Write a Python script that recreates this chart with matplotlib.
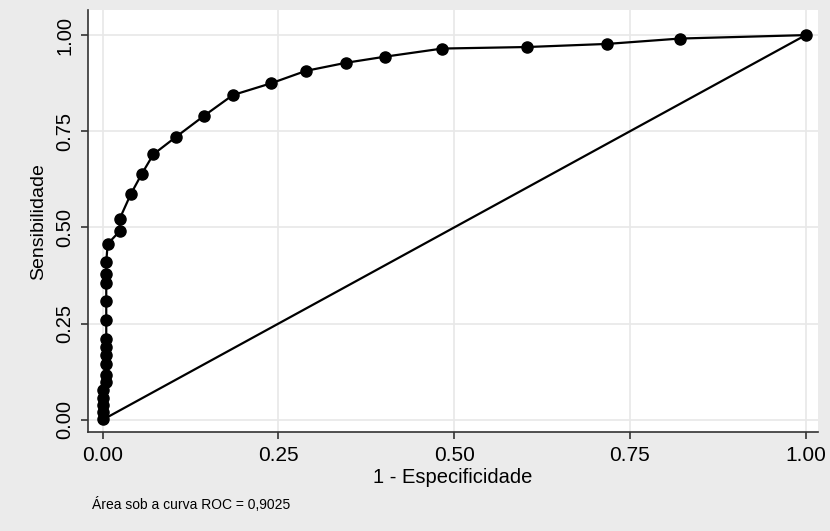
import matplotlib
matplotlib.use("Agg")
import matplotlib.pyplot as plt

# ROC points (1 - especificidade, sensibilidade)
fpr = [0.0, 0.0, 0.0, 0.0, 0.0, 0.005, 0.005, 0.005, 0.005, 0.005, 0.005,
       0.005, 0.005, 0.005, 0.005, 0.005, 0.007, 0.024, 0.024, 0.040, 0.0555,
       0.072, 0.104, 0.144, 0.185, 0.240, 0.289, 0.346, 0.402, 0.483, 0.604,
       0.717, 0.821, 1.0]
tpr = [0.003, 0.020, 0.038, 0.057, 0.078, 0.097, 0.117, 0.146, 0.168, 0.190,
       0.210, 0.258, 0.308, 0.355, 0.380, 0.410, 0.457, 0.490, 0.522, 0.587,
       0.639, 0.690, 0.735, 0.790, 0.844, 0.875, 0.907, 0.928, 0.944, 0.965,
       0.969, 0.977, 0.991, 1.0]

ref_line = [0.0, 1.0]
ticks = [0.0, 0.25, 0.5, 0.75, 1.0]
tick_labels = ["0.00", "0.25", "0.50", "0.75", "1.00"]
auc_text = "Área sob a curva ROC = 0,9025"

plt.rcParams['font.family'] = ['Liberation Sans', 'DejaVu Sans']

fig = plt.figure(figsize=(8.3, 5.31), dpi=100)
fig.patch.set_facecolor("#ebebeb")
ax = fig.add_axes([0.106, 0.186, 0.880, 0.795])
ax.set_facecolor("white")

ax.plot(ref_line, ref_line, color="black", lw=1.6, zorder=3)
ax.plot(fpr, tpr, color="black", lw=1.6, marker="o", markersize=8, zorder=4)

ax.set_xlim(-0.021, 1.018)
ax.set_ylim(-0.0325, 1.065)
ax.set_xticks(ticks)
ax.set_xticklabels(tick_labels, fontsize=15)
ax.set_yticks(ticks)
ax.set_yticklabels(tick_labels, fontsize=14.5, rotation=90, va="center")
ax.grid(True, color="#e8e8e8", lw=1.2)
ax.set_axisbelow(True)

for s in ["top", "right"]:
    ax.spines[s].set_visible(False)
for s in ["left", "bottom"]:
    ax.spines[s].set_color("#333333")
    ax.spines[s].set_linewidth(1.2)
ax.tick_params(direction="out", length=5, width=1.2, color="#333333", pad=5)

ax.set_xlabel("1 - Especificidade", fontsize=14.5, labelpad=2)
ax.set_ylabel("Sensibilidade", fontsize=14, labelpad=6)

fig.text(0.111, 0.042, auc_text, fontsize=10,
         family=['Liberation Sans Narrow', 'Liberation Sans', 'DejaVu Sans'])

fig.savefig("out.png", dpi=100, facecolor=fig.get_facecolor())
